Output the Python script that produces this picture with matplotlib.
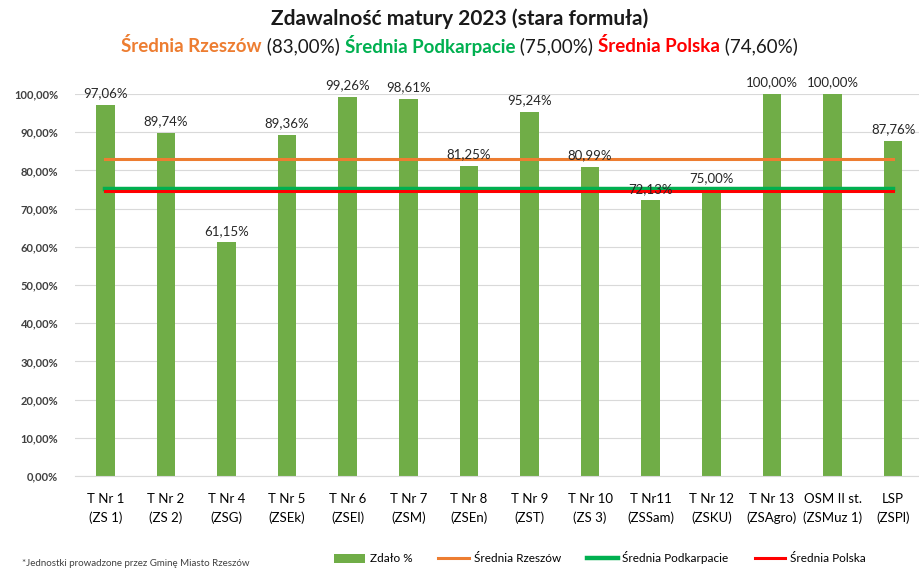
import numpy as np
import matplotlib
matplotlib.use('Agg')
import matplotlib.pyplot as plt
from matplotlib.ticker import FuncFormatter

plt.rcParams['font.family'] = ['Lato', 'DejaVu Sans']

# data
schools = ['T Nr 1\n(ZS 1)', 'T Nr 2\n(ZS 2)', 'T Nr 4\n(ZSG)', 'T Nr 5\n(ZSEk)',
           'T Nr 6\n(ZSEl)', 'T Nr 7\n(ZSM)', 'T Nr 8\n(ZSEn)', 'T Nr 9\n(ZST)',
           'T Nr 10\n(ZS 3)', 'T Nr11\n(ZSSam)', 'T Nr 12\n(ZSKU)', 'T Nr 13\n(ZSAgro)',
           'OSM II st.\n(ZSMuz 1)', 'LSP\n(ZSPl)']
zdalo = [97.06, 89.74, 61.15, 89.36, 99.26, 98.61, 81.25, 95.24, 80.99, 72.13,
         75.00, 100.00, 100.00, 87.76]
sr_rzeszow = 83.00
sr_podkarpacie = 75.00
sr_polska = 74.60

cBar = '#70AD47'
cOrange = '#ED7D31'
cGreen = '#00B050'
cRed = '#FF0000'

fig = plt.figure(figsize=(9.19, 5.71), dpi=100)
ax = fig.add_axes([75/919, 95/571, 844/919, 382/571])

x = np.arange(len(schools))
b0 = ax.bar(x, zdalo, width=0.31, color=cBar, label='Zdało %', zorder=2)
n = len(schools)
l1, = ax.plot(x, [sr_rzeszow]*n, color=cOrange, lw=2.2, label='Średnia Rzeszów', zorder=3)
l2, = ax.plot(x, [sr_podkarpacie]*n, color=cGreen, lw=3.2, label='Średnia Podkarpacie', zorder=3)
l3, = ax.plot(x, [sr_polska]*n, color=cRed, lw=2.2, label='Średnia Polska', zorder=4)

for xi, v in zip(x, zdalo):
    ax.text(xi, v + 1.5, '{:.2f}%'.format(v).replace('.', ','), ha='center', va='bottom',
            fontsize=9.5, color='#262626', zorder=5)

ax.set_xlim(-0.5, -0.5 + 844/60.6)
ax.set_ylim(0, 100)
ax.set_yticks(np.arange(0, 101, 10))
ax.yaxis.set_major_formatter(FuncFormatter(lambda v, p: '{:.2f}%'.format(v).replace('.', ',')))
ax.set_xticks(x)
ax.set_xticklabels(schools, fontsize=9.5, linespacing=1.6)
ax.tick_params(axis='y', labelsize=8, length=0, pad=12)
ax.tick_params(axis='x', length=0, pad=12)
for lbl in ax.get_yticklabels():
    lbl.set_fontweight('bold')
    lbl.set_color('#404040')
ax.grid(axis='y', color='#D9D9D9', lw=0.8, zorder=0)
for s in ['top', 'right', 'left']:
    ax.spines[s].set_visible(False)
ax.spines['bottom'].set_color('#D9D9D9')

leg = fig.legend([b0, l1, l2, l3], ['Zdało %', 'Średnia Rzeszów', 'Średnia Podkarpacie', 'Średnia Polska'],
                 loc='center', bbox_to_anchor=(600/919, 1 - 558/571), ncol=4, frameon=False,
                 fontsize=8.5, handlelength=2.6, columnspacing=2.2, handletextpad=0.4)

fig.text(22/919, 1 - 564/571, '*Jednostki prowadzone przez Gminę Miasto Rzeszów',
         fontsize=7, color='#404040', va='center')

fig.text(0.5, 1 - 19/571, 'Zdawalność matury 2023 (stara formuła)', ha='center', va='center',
         fontsize=15, fontweight='bold', color='#1a1a1a')

# multi-coloured subtitle
parts = [('Średnia Rzeszów', cOrange, 'bold'), (' (83,00%) ', '#1a1a1a', 'normal'),
         ('Średnia Podkarpacie', cGreen, 'bold'), (' (75,00%) ', '#1a1a1a', 'normal'),
         ('Średnia Polska', cRed, 'bold'), (' (74,60%)', '#1a1a1a', 'normal')]
fig.canvas.draw()
r = fig.canvas.get_renderer()
texts = []
for s, c, fw in parts:
    t = fig.text(0, 1 - 46/571, s, fontsize=13.5, fontweight=fw, color=c, va='center')
    texts.append(t)
widths = [t.get_window_extent(r).width for t in texts]
total = sum(widths)
xpos = (fig.bbox.width - total) / 2
for t, w in zip(texts, widths):
    t.set_x(xpos / fig.bbox.width)
    xpos += w

fig.savefig('out.png', dpi=100)
